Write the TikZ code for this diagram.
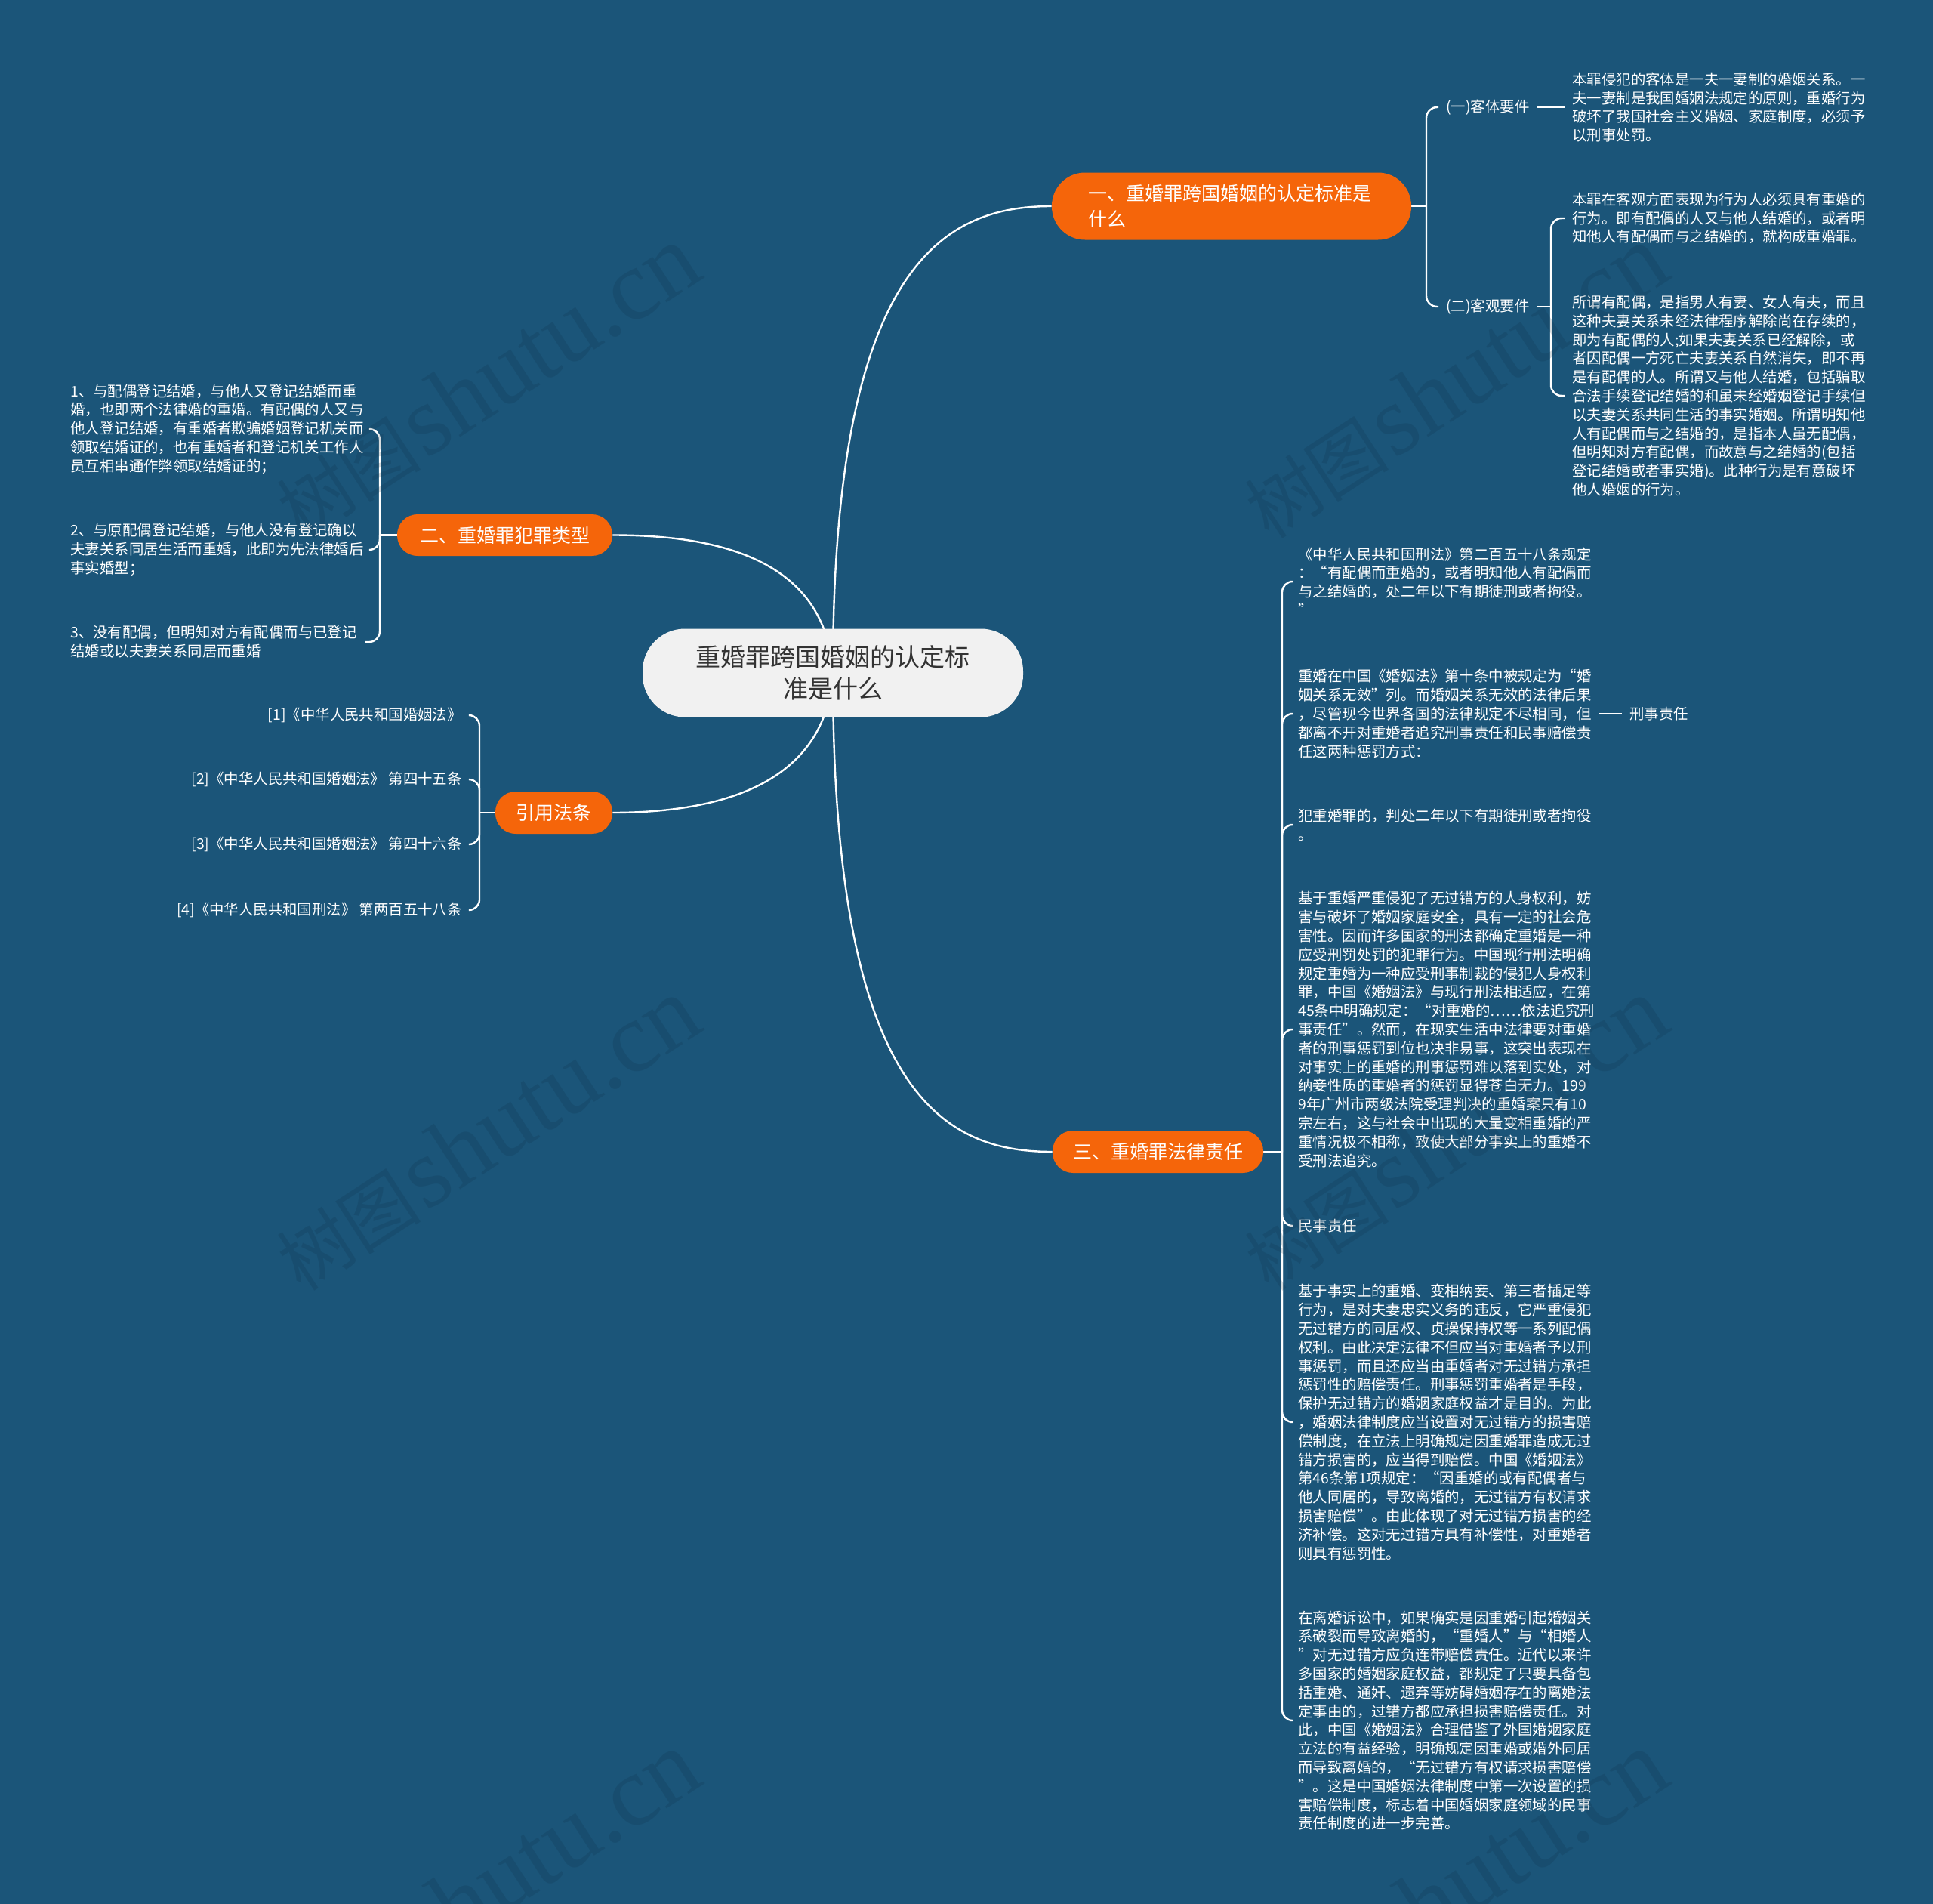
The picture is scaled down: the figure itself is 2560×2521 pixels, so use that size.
\documentclass[tikz,border=0pt]{standalone}
\usepackage{fontspec}
\setmainfont{Noto Sans CJK SC}
\newfontfamily\wmserif{Liberation Serif}
\usetikzlibrary{backgrounds}
\definecolor{bg}{HTML}{1B5579}
\definecolor{org}{HTML}{F5650A}
\definecolor{cnode}{HTML}{F1F1F1}
\definecolor{ctext}{HTML}{333333}
\definecolor{wmc}{HTML}{0A2A40}
\newcommand{\wmtext}{{\fontsize{48}{48}\selectfont 树图} {\wmserif\fontsize{66}{66}\selectfont shutu.cn}}
\begin{document}
\begin{tikzpicture}[x=0.5pt,y=-0.5pt,
  txt/.style={text=white, font=\fontsize{9.7}{12.4}\selectfont, align=left, inner xsep=5pt, inner ysep=0pt, anchor=west},
  txtr/.style={txt, align=right, anchor=east},
  rootnode/.style={fill=cnode, text=ctext, font=\fontsize{16.5}{21}\selectfont, minimum width=252pt, minimum height=58.5pt, rounded corners=28pt, align=center, inner sep=0pt},
  branch/.style={fill=org, text=white, font=\fontsize{12.5}{17}\selectfont, rounded corners=13.5pt, inner sep=0pt, align=center, minimum height=28pt},
  link/.style={draw=white, line width=1.2pt, rounded corners=7pt},
  wm/.style={text=wmc, opacity=0.17, rotate=33, inner sep=0pt}
]
\useasboundingbox (0,0) rectangle (2560,2521);

% central and main branches
\node[rootnode] (root) at (1103,891) {重婚罪跨国婚姻的认定标\\准是什么};
\node[branch, minimum width=238pt, minimum height=44.5pt, text width=190pt, align=left, rounded corners=22pt] (b1) at (1631,273) {一、重婚罪跨国婚姻的认定标准是\\什么};
\node[branch, minimum width=142.5pt, minimum height=27.5pt] (b2) at (668.5,708.5) {二、重婚罪犯罪类型};
\node[branch, minimum width=77.5pt] (b4) at (733.5,1076) {引用法条};
\node[branch, minimum width=139.5pt] (b3) at (1533.5,1525) {三、重婚罪法律责任};

% junctions
\coordinate (j1) at (1889,273);
\coordinate (j2) at (2054,406);
\coordinate (j3) at (503,708.5);
\coordinate (j4) at (635,1076);
\coordinate (j5) at (1698,1525);

% branch one
\node[txt] (k1) at (1905,142) {(一)客体要件};
\node[txt] (k2) at (1905,406) {(二)客观要件};
\node[txt] (k1t) at (2072,142) {本罪侵犯的客体是一夫一妻制的婚姻关系。一\\夫一妻制是我国婚姻法规定的原则，重婚行为\\破坏了我国社会主义婚姻、家庭制度，必须予\\以刑事处罚。};
\node[txt] (k2a) at (2072,289) {本罪在客观方面表现为行为人必须具有重婚的\\行为。即有配偶的人又与他人结婚的，或者明\\知他人有配偶而与之结婚的，就构成重婚罪。};
\node[txt] (k2b) at (2072,524) {所谓有配偶，是指男人有妻、女人有夫，而且\\这种夫妻关系未经法律程序解除尚在存续的，\\即为有配偶的人;如果夫妻关系已经解除，或\\者因配偶一方死亡夫妻关系自然消失，即不再\\是有配偶的人。所谓又与他人结婚，包括骗取\\合法手续登记结婚的和虽未经婚姻登记手续但\\以夫妻关系共同生活的事实婚姻。所谓明知他\\人有配偶而与之结婚的，是指本人虽无配偶，\\但明知对方有配偶，而故意与之结婚的(包括\\登记结婚或者事实婚)。此种行为是有意破坏\\他人婚姻的行为。};

% branch two
\node[txt] (l1) at (83,568) {1、与配偶登记结婚，与他人又登记结婚而重\\婚，也即两个法律婚的重婚。有配偶的人又与\\他人登记结婚，有重婚者欺骗婚姻登记机关而\\领取结婚证的，也有重婚者和登记机关工作人\\员互相串通作弊领取结婚证的；};
\node[txt] (l2) at (83,728) {2、与原配偶登记结婚，与他人没有登记确以\\夫妻关系同居生活而重婚，此即为先法律婚后\\事实婚型；};
\node[txt] (l3) at (83,850) {3、没有配偶，但明知对方有配偶而与已登记\\结婚或以夫妻关系同居而重婚};

% citations
\node[txtr] (r1) at (622,947) {[1]《中华人民共和国婚姻法》};
\node[txtr] (r2) at (622,1032) {[2]《中华人民共和国婚姻法》 第四十五条};
\node[txtr] (r3) at (622,1118) {[3]《中华人民共和国婚姻法》 第四十六条};
\node[txtr] (r4) at (622,1205) {[4]《中华人民共和国刑法》 第两百五十八条};

% branch three
\node[txt] (m1) at (1709,770) {《中华人民共和国刑法》第二百五十八条规定\\：“有配偶而重婚的，或者明知他人有配偶而\\与之结婚的，处二年以下有期徒刑或者拘役。\\”};
\node[txt] (m2) at (1709,945) {重婚在中国《婚姻法》第十条中被规定为“婚\\姻关系无效”列。而婚姻关系无效的法律后果\\，尽管现今世界各国的法律规定不尽相同，但\\都离不开对重婚者追究刑事责任和民事赔偿责\\任这两种惩罚方式：};
\node[txt] (xs) at (2148,945) {刑事责任};
\node[txt] (m3) at (1709,1092) {犯重婚罪的，判处二年以下有期徒刑或者拘役\\。};
\node[txt] (m4) at (1709,1363) {基于重婚严重侵犯了无过错方的人身权利，妨\\害与破坏了婚姻家庭安全，具有一定的社会危\\害性。因而许多国家的刑法都确定重婚是一种\\应受刑罚处罚的犯罪行为。中国现行刑法明确\\规定重婚为一种应受刑事制裁的侵犯人身权利\\罪，中国《婚姻法》与现行刑法相适应，在第\\45条中明确规定：“对重婚的……依法追究刑\\事责任”。然而，在现实生活中法律要对重婚\\者的刑事惩罚到位也决非易事，这突出表现在\\对事实上的重婚的刑事惩罚难以落到实处，对\\纳妾性质的重婚者的惩罚显得苍白无力。199\\9年广州市两级法院受理判决的重婚案只有10\\宗左右，这与社会中出现的大量变相重婚的严\\重情况极不相称，致使大部分事实上的重婚不\\受刑法追究。};
\node[txt] (m5) at (1709,1623) {民事责任};
\node[txt] (m6) at (1709,1883) {基于事实上的重婚、变相纳妾、第三者插足等\\行为，是对夫妻忠实义务的违反，它严重侵犯\\无过错方的同居权、贞操保持权等一系列配偶\\权利。由此决定法律不但应当对重婚者予以刑\\事惩罚，而且还应当由重婚者对无过错方承担\\惩罚性的赔偿责任。刑事惩罚重婚者是手段，\\保护无过错方的婚姻家庭权益才是目的。为此\\，婚姻法律制度应当设置对无过错方的损害赔\\偿制度，在立法上明确规定因重婚罪造成无过\\错方损害的，应当得到赔偿。中国《婚姻法》\\第46条第1项规定：“因重婚的或有配偶者与\\他人同居的，导致离婚的，无过错方有权请求\\损害赔偿”。由此体现了对无过错方损害的经\\济补偿。这对无过错方具有补偿性，对重婚者\\则具有惩罚性。};
\node[txt] (m7) at (1709,2278) {在离婚诉讼中，如果确实是因重婚引起婚姻关\\系破裂而导致离婚的，“重婚人”与“相婚人\\”对无过错方应负连带赔偿责任。近代以来许\\多国家的婚姻家庭权益，都规定了只要具备包\\括重婚、通奸、遗弃等妨碍婚姻存在的离婚法\\定事由的，过错方都应承担损害赔偿责任。对\\此，中国《婚姻法》合理借鉴了外国婚姻家庭\\立法的有益经验，明确规定因重婚或婚外同居\\而导致离婚的，“无过错方有权请求损害赔偿\\”。这是中国婚姻法律制度中第一次设置的损\\害赔偿制度，标志着中国婚姻家庭领域的民事\\责任制度的进一步完善。};

\begin{pgfonlayer}{background}
\fill[bg] (0,0) rectangle (2560,2521);
% main connectors
\draw[link] (root.center) .. controls (1103,350) and (1250,273) .. (b1.west);
\draw[link] (root.center) .. controls (1103,1450) and (1250,1525) .. (b3.west);
\draw[link] (root.center) .. controls (1094,740) and (950,708.5) .. (b2.east);
\draw[link] (root.center) .. controls (1094,1040) and (950,1076) .. (b4.east);
% branch one
\draw[link] (b1.east) -- (j1);
\draw[link] (j1) |- (k1.west);
\draw[link] (j1) |- (k2.west);
\draw[link] (k1.east) -- (k1t.west);
\draw[link] (k2.east) -- (j2);
\draw[link] (j2) |- (k2a.west);
\draw[link] (j2) |- (k2b.west);
% branch two
\draw[link] (b2.west) -- (j3);
\draw[link] (j3) |- (l1.east);
\draw[link] (j3) |- (l2.east);
\draw[link] (j3) |- (l3.east);
% citations
\draw[link] (b4.west) -- (j4);
\draw[link] (j4) |- (r1.east);
\draw[link] (j4) |- (r2.east);
\draw[link] (j4) |- (r3.east);
\draw[link] (j4) |- (r4.east);
% branch three
\draw[link] (b3.east) -- (j5);
\draw[link] (j5) |- (m1.west);
\draw[link] (j5) |- (m2.west);
\draw[link] (j5) |- (m3.west);
\draw[link] (j5) |- (m4.west);
\draw[link] (j5) |- (m5.west);
\draw[link] (j5) |- (m6.west);
\draw[link] (j5) |- (m7.west);
\draw[link] (m2.east) -- (xs.west);
\end{pgfonlayer}

% watermarks
\node[wm] (w1) at (645,506) {\wmtext};
\node[wm] (w2) at (1927,506) {\wmtext};
\node[wm] (w3) at (645,1502) {\wmtext};
\node[wm] (w4) at (1927,1502) {\wmtext};
\node[wm] (w5) at (645,2500) {\wmtext};
\node[wm] (w6) at (1927,2500) {\wmtext};
\end{tikzpicture}
\end{document}
